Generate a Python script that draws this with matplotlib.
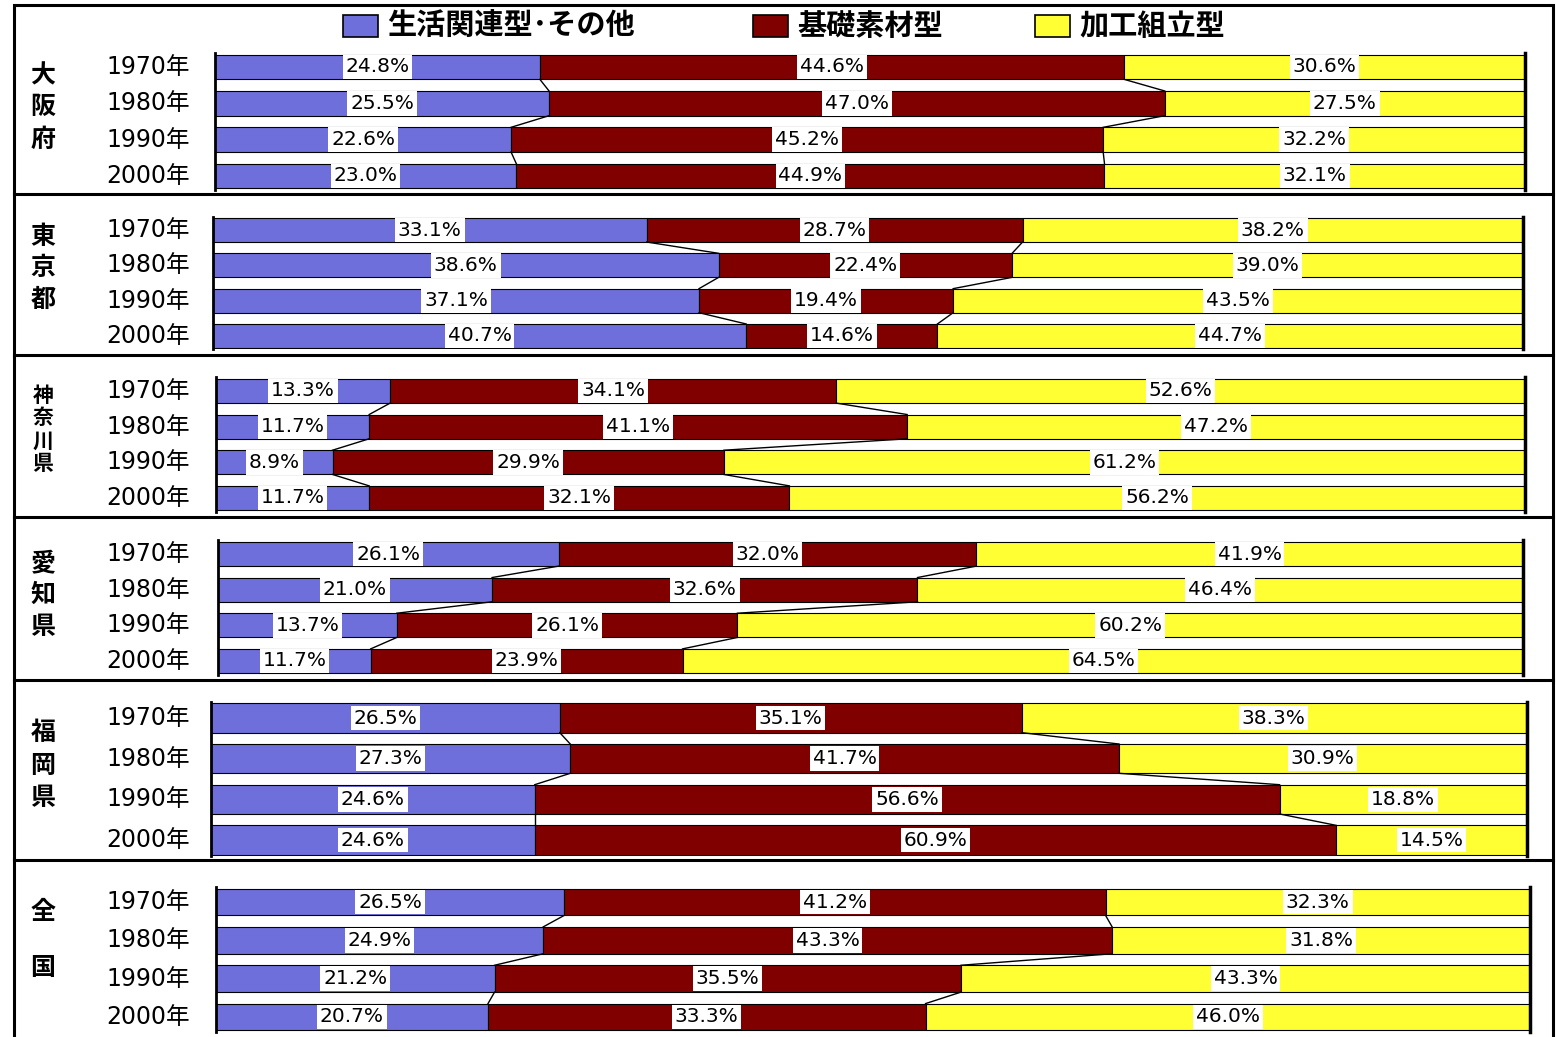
import matplotlib.pyplot as plt
from matplotlib.patches import Rectangle
from matplotlib.lines import Line2D

plt.rcParams['font.family'] = ['DejaVu Sans', 'Noto Sans CJK JP']

# data (%)
years = ['1970年', '1980年', '1990年', '2000年']
regions = ['大阪府', '東京都', '神奈川県', '愛知県', '福岡県', '全国']
series_names = ['生活関連型･その他', '基礎素材型', '加工組立型']

seikatsu = [[24.8, 25.5, 22.6, 23.0],
            [33.1, 38.6, 37.1, 40.7],
            [13.3, 11.7, 8.9, 11.7],
            [26.1, 21.0, 13.7, 11.7],
            [26.5, 27.3, 24.6, 24.6],
            [26.5, 24.9, 21.2, 20.7]]
kiso = [[44.6, 47.0, 45.2, 44.9],
        [28.7, 22.4, 19.4, 14.6],
        [34.1, 41.1, 29.9, 32.1],
        [32.0, 32.6, 26.1, 23.9],
        [35.1, 41.7, 56.6, 60.9],
        [41.2, 43.3, 35.5, 33.3]]
kakou = [[30.6, 27.5, 32.2, 32.1],
         [38.2, 39.0, 43.5, 44.7],
         [52.6, 47.2, 61.2, 56.2],
         [41.9, 46.4, 60.2, 64.5],
         [38.3, 30.9, 18.8, 14.5],
         [32.3, 31.8, 43.3, 46.0]]

colors = ['#6f6fdc', '#800000', '#ffff33']

# layout in pixels (reference image coords)
W, H = 1556, 1037
bar_x = [(215, 1525), (213, 1523), (216, 1525), (218, 1523), (211, 1527), (216, 1530)]
bar_y = [(67, 176), (230, 336), (391, 498), (554, 661), (718, 840), (902, 1017)]
bar_h = [0.68, 0.68, 0.68, 0.68, 0.72, 0.70]
sep_y = [194, 355, 517, 680, 860]


def fx(x):
    return x / W


def fy(y):
    return 1 - y / H


fig = plt.figure(figsize=(W / 100, H / 100), dpi=100)

# outer frame and separators
fig.add_artist(Rectangle((fx(14), fy(1040)), fx(1553) - fx(14), fy(5) - fy(1040),
                         transform=fig.transFigure, fill=False, ec='black', lw=2.2))
for y in sep_y:
    fig.add_artist(Line2D([fx(14), fx(1553)], [fy(y), fy(y)],
                          transform=fig.transFigure, color='black', lw=2.2))

# legend
leg_box = [343, 753, 1035]
for i, name in enumerate(series_names):
    x0 = leg_box[i]
    fig.add_artist(Rectangle((fx(x0), fy(37)), fx(35), 22 / H, transform=fig.transFigure,
                             fc=colors[i], ec='black', lw=1.2))
    fig.text(fx(x0 + 44), fy(26), name, fontsize=21, fontweight='bold',
             family='Noto Sans CJK JP', va='center', ha='left')

# prefecture label positions (px)
reg_label_y = [[75, 107, 140], [237, 268, 300], [395, 418, 441, 463],
               [563, 595, 627], [733, 766, 798], [912, 968]]
reg_fs = [18, 18, 15, 18, 18, 18]

for r in range(len(regions)):
    (xl, xr), (c0, c3), h = bar_x[r], bar_y[r], bar_h[r]
    s = (c3 - c0) / 3
    top = c0 - s * (h / 2 + 0.04)
    bot = c3 + s * (h / 2 + 0.04)
    ax = fig.add_axes([fx(xl), fy(bot), fx(xr) - fx(xl), fy(top) - fy(bot)])
    ax.set_xlim(0, 100)
    ax.set_ylim(3 + h / 2 + 0.04, -h / 2 - 0.04)

    vals = [seikatsu[r], kiso[r], kakou[r]]
    ypos = list(range(len(years)))
    left = [0.0] * len(years)
    cums = []
    for k in range(3):
        ax.barh(ypos, vals[k], left=left, height=h, color=colors[k],
                edgecolor='black', lw=0.8, zorder=2)
        for i, v in enumerate(vals[k]):
            ax.text(left[i] + v / 2, i, f'{v:.1f}%', ha='center', va='center',
                    fontsize=14.5, zorder=4,
                    bbox=dict(boxstyle='square,pad=0.14', fc='white', ec='none'))
        left = [a + b for a, b in zip(left, vals[k])]
        cums.append(list(left))

    # connector lines between bars
    for k in range(2):
        for i in range(len(years) - 1):
            ax.plot([cums[k][i], cums[k][i + 1]], [i + h / 2, i + 1 - h / 2],
                    color='black', lw=1, zorder=3)

    ax.set_xticks([])
    ax.set_yticks([])
    ax.spines['top'].set_visible(False)
    ax.spines['bottom'].set_visible(False)
    ax.spines['left'].set_linewidth(2)
    ax.spines['right'].set_linewidth(2.5)
    ax.patch.set_alpha(0)

    # year labels
    for i, yl in enumerate(years):
        yc = c0 + s * i
        fig.text(fx(190), fy(yc), yl, fontsize=17, ha='right', va='center')

    # prefecture name, vertical
    for ch, yy in zip(regions[r], reg_label_y[r]):
        fig.text(fx(43), fy(yy), ch, fontsize=reg_fs[r], fontweight='bold',
                 family='Noto Sans CJK JP', ha='center', va='center')

fig.savefig('out.png', dpi=100)
